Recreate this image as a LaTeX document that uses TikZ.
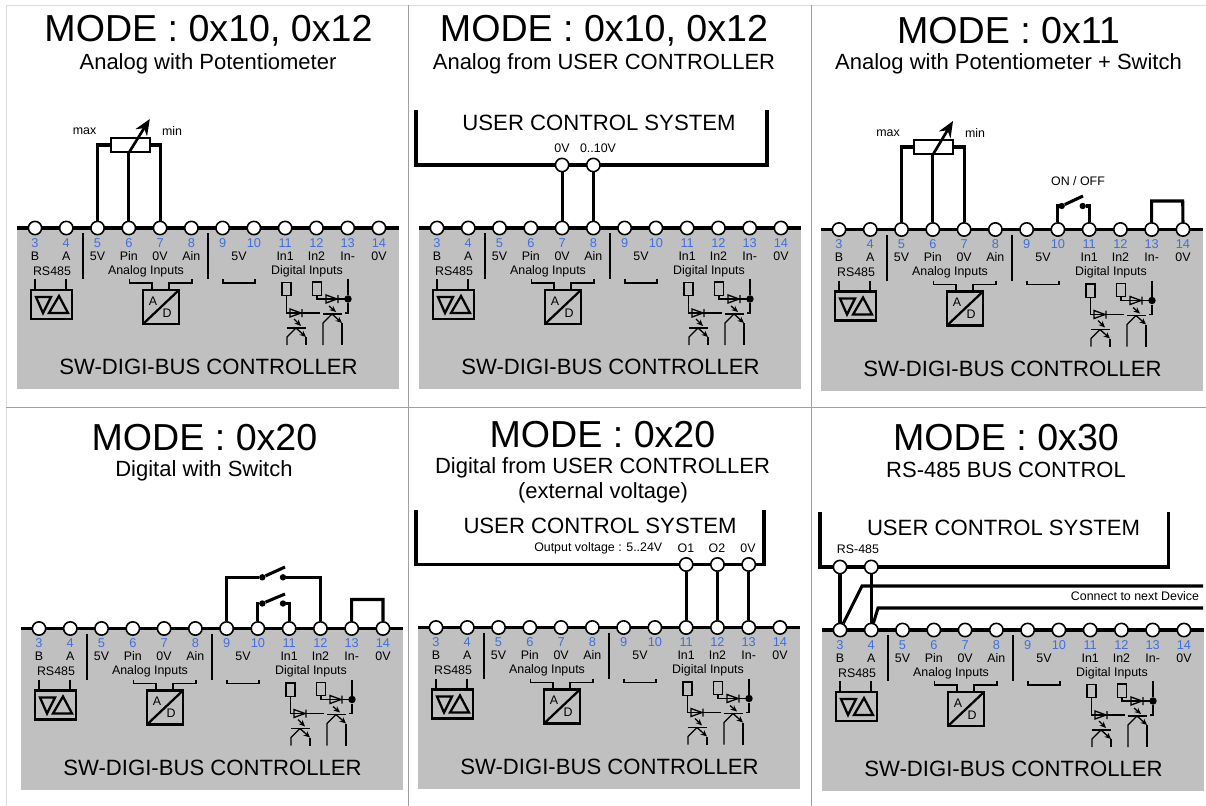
\documentclass[tikz,border=0pt]{standalone}
\usepackage{fontspec}
\setmainfont{Liberation Sans}
\usetikzlibrary{arrows.meta,calc}
\definecolor{panelgray}{HTML}{C0C0C0}
\definecolor{numblue}{HTML}{3F6FE0}
\definecolor{gridgray}{HTML}{A0A0A0}
\definecolor{gridlight}{HTML}{DCDCDC}
\tikzset{
 x=0.75pt,y=-0.75pt,
 term/.style={circle,draw=black,fill=white,line width=1.2pt,minimum size=10pt,inner sep=0pt},
 numlab/.style={text=numblue,font=\fontsize{9.6}{10}\selectfont,inner sep=0pt},
 lab/.style={font=\fontsize{9.3}{10}\selectfont,inner sep=0pt},
 title/.style={font=\fontsize{28.2}{30}\selectfont,inner sep=0pt},
 subtitle/.style={font=\fontsize{16.5}{18}\selectfont,inner sep=0pt},
 big/.style={font=\fontsize{16.6}{18}\selectfont,inner sep=0pt},
 wire/.style={line width=2.3pt,draw=black},
 thick wire/.style={line width=2.5pt,draw=black},
 inner wire/.style={line width=1pt,draw=black},
 box wire/.style={line width=1.7pt,draw=black},
 sep wire/.style={line width=1.6pt,draw=black},
 arrowed/.style={line width=1pt,-{Stealth[length=4.8pt,width=4.2pt]}},
 dot/.style={circle,fill=black,inner sep=0pt,minimum size=4.8pt},
 bigdot/.style={circle,fill=black,inner sep=0pt,minimum size=5.6pt},
 pot/.style={rectangle,draw=black,fill=white,line width=1.7pt,minimum width=29pt,minimum height=10pt,inner sep=0pt},
 res/.style={rectangle,draw=black,line width=1pt,minimum width=6.6pt,minimum height=10pt,inner sep=0pt},
}
% #1 prefix, #2 x of terminal 3, #3 y of bus
\newcommand{\panelbody}[3]{%
\begin{scope}[shift={(#2,#3)}]
 \fill[panelgray] (-18,0) rectangle (364,161);
 \draw[thick wire] (-18,0) -- (364,0);
 \foreach \n/\lbl [count=\i from 0] in {3/B,4/A,5/5V,6/Pin,7/0V,8/Ain,9/,10/,11/In1,12/In2,13/In-,14/0V}{
   \node[term] (#1\n) at ({\i*31.27},0) {};
   \node[numlab] (#1n\n) at ({\i*31.27},15) {\n};
   \ifx\lbl\empty\else\node[lab] (#1l\n) at ({\i*31.27},28) {\lbl};\fi
 }
 \node[lab] (#1five) at (204,28) {5V};
 \node[lab] (#1rs) at (17,43) {RS485};
 \node[lab] (#1ana) at (111,43) {Analog Inputs};
 \node[lab] (#1dig) at (272,43) {Digital Inputs};
 \node[big] (#1ctl) at (173.5,139) {SW-DIGI-BUS CONTROLLER};
 \draw[sep wire] (48,5) -- (48,51);
 \draw[sep wire] (173,5) -- (173,51);
 % RS485 block
 \draw[box wire] (-4,62) rectangle (37,91);
 \draw[inner wire] (0,51) -- (0,62) (31,51) -- (31,62);
 \draw[box wire] (1,69) -- (16,69) -- (8,85) -- cycle;
 \draw[box wire] (14,85) -- (33,85) -- (24,68) -- cycle;
 % A/D block
 \draw[box wire] (108,62) rectangle (144,96);
 \draw[box wire] (108,96) -- (144,62);
 \node[lab] (#1A) at (118,73) {A};
 \node[lab] (#1D) at (132,85) {D};
 \draw[inner wire] (94.5,51) -- (94.5,55) -- (117,55) -- (117,62);
 \draw[inner wire] (157,51) -- (157,55) -- (134,55) -- (134,62);
 % 5V bracket
 \draw[inner wire] (188,51) -- (188,55) -- (220,55) -- (220,51);
 % digital input 1
 \node[res] (#1ra) at (251.5,61) {};
 \draw[inner wire] (#1ra.south) -- (251.5,85) -- (285,85);
 \draw[inner wire] (255,81) -- (255,89) -- (266,85) -- cycle (267,81) -- (267,89);
 \draw[arrowed] (259,91) -- (266,98);
 \draw[inner wire] (252,100) -- (271,100);
 \draw[inner wire] (252,117) -- (252,109) -- (261,100);
 \draw[arrowed] (261,100) -- (271,109);
 \draw[inner wire] (271,109) -- (271,117);
 % digital input 2
 \node[res] (#1rb) at (282,60.5) {};
 \draw[inner wire] (#1rb.south) -- (282,71) -- (313,71);
 \draw[inner wire] (291,67) -- (291,75) -- (302,71) -- cycle (303,67) -- (303,75);
 \node[bigdot] (#1dt) at (313,71) {};
 \draw[inner wire] (313,51) -- (#1dt) -- (313,85) -- (310,85);
 \draw[arrowed] (294,78) -- (301,84);
 \draw[inner wire] (288,86) -- (307,86);
 \draw[inner wire] (288,117) -- (288,95) -- (297,86);
 \draw[arrowed] (297,86) -- (307,95);
 \draw[inner wire] (307,95) -- (307,117);
\end{scope}}
% #1 prefix, #2 x centre, #3 y of wire, potentiometer
\newcommand{\potmeter}[3]{%
 \node[pot] (#1pot) at (#2,#3) {};
 \draw[wire] (#15.north) |- (#1pot.west);
 \draw[wire] (#17.north) |- (#1pot.east);
 \draw[wire] (#16.north) -- (#16.north |- #1pot.south);
 \coordinate (#1tip) at ($(#1pot.center)+(19.5,-26)$);
 \draw[line width=2pt,-{Stealth[length=12pt,width=10pt]}] (#16 |- #1pot.south) -- (#1tip);
}
\begin{document}
\begin{tikzpicture}
\useasboundingbox (0,0) rectangle (1206,806);
\fill[white] (0,0) rectangle (1206,806);
\draw[gridlight,line width=0.7pt] (6,806) -- (6,5) -- (1206,5);
\draw[gridgray,line width=0.7pt] (408,5) -- (408,806) (811,5) -- (811,806) (6,407.5) -- (1206,407.5);

% ---- panel 1
\node[title] (t1) at (208.5,31) {MODE : 0x10, 0x12};
\node[subtitle] (s1) at (208,64) {Analog with Potentiometer};
\panelbody{a}{35}{228}
\potmeter{a}{130.3}{145}
\node[lab] (amax) at (84.5,131) {max};
\node[lab] (amin) at (172,131) {min};

% ---- panel 2
\node[title] (t2) at (604,31) {MODE : 0x10, 0x12};
\node[subtitle] (s2) at (604,64) {Analog from USER CONTROLLER};
\panelbody{b}{437}{228}
\node[big] (bu) at (599,123) {USER CONTROL SYSTEM};
\coordinate (bul) at (416,110);
\coordinate (bur) at (767,110);
\draw[thick wire] (bul) |- (767,165) -- (bur);
\node[term] (bp) at (b7 |- 0,165) {};
\node[term] (bq) at (b8 |- 0,165) {};
\draw[wire] (bp) -- (b7);
\draw[wire] (bq) -- (b8);
\node[lab] (bpl) at (562,148.5) {0V};
\node[lab] (bql) at (598,148.5) {0..10V};

% ---- panel 3
\node[title] (t3) at (1008.5,31) {MODE : 0x11};
\node[subtitle] (s3) at (1008.5,64) {Analog with Potentiometer + Switch};
\panelbody{c}{839}{229.5}
\potmeter{c}{933.5}{147}
\node[lab] (cmax) at (888,133) {max};
\node[lab] (cmin) at (975,133) {min};
\node[lab] (con) at (1078,181.5) {ON / OFF};
\node[dot] (cda) at (1061.7,206) {};
\node[dot] (cdb) at (1082.7,206) {};
\coordinate (cle) at (1083,196);
\draw[wire] (c10.north) |- (cda);
\draw[wire] (cda) -- (cle);
\draw[wire] (c11.north) |- (cdb);
\draw[wire] (c13.north) |- (1182.7,201) -- (c14.north);

% ---- panel 4
\node[title] (t4) at (204.5,438) {MODE : 0x20};
\node[subtitle] (s4) at (204,471) {Digital with Switch};
\panelbody{d}{39}{628.5}
\node[dot] (dda) at (262.3,577.3) {};
\node[dot] (ddb) at (283,577.3) {};
\coordinate (dle) at (285,567);
\draw[wire] (d9.north) |- (dda);
\draw[wire] (dda) -- (dle);
\draw[wire] (d12.north) |- (ddb);
\node[dot] (ddc) at (262.3,603.5) {};
\node[dot] (ddd) at (283,603.5) {};
\coordinate (dlf) at (285,594);
\draw[wire] (d10.north) |- (ddc);
\draw[wire] (ddc) -- (dlf);
\draw[wire] (d11.north) |- (ddd);
\draw[wire] (d13.north) |- (383,599.5) -- (d14.north);

% ---- panel 5
\node[title] (t5) at (602.5,435) {MODE : 0x20};
\node[subtitle] (s5) at (602.5,468) {Digital from USER CONTROLLER};
\node[subtitle] (s5b) at (603,493) {(external voltage)};
\panelbody{e}{436}{627.5}
\node[big] (eu) at (600,526) {USER CONTROL SYSTEM};
\coordinate (eul) at (416,510);
\coordinate (eur) at (764,510);
\draw[thick wire] (eul) |- (764,564.5) -- (eur);
\node[term] (ep) at (e11 |- 0,564.5) {};
\node[term] (eq) at (e12 |- 0,564.5) {};
\node[term] (er) at (e13 |- 0,564.5) {};
\draw[wire] (ep) -- (e11);
\draw[wire] (eq) -- (e12);
\draw[wire] (er) -- (e13);
\node[lab] (epl) at (686,548) {O1};
\node[lab] (eql) at (717,548) {O2};
\node[lab] (erl) at (748,548) {0V};
\node[lab,anchor=east] (ev) at (662.5,548) {Output voltage : 5..24V};

% ---- panel 6
\node[title] (t6) at (1006,438) {MODE : 0x30};
\node[subtitle] (s6) at (1006,470) {RS-485 BUS CONTROL};
\panelbody{f}{840}{630}
\node[big] (fu) at (1003.5,528) {USER CONTROL SYSTEM};
\coordinate (ful) at (820,512);
\coordinate (fur) at (1168.5,512);
\draw[thick wire] (ful) |- (1168.5,567) -- (fur);
\node[term] (fp) at (f3 |- 0,567) {};
\node[term] (fq) at (f4 |- 0,567) {};
\draw[wire] (fp) -- (f3);
\draw[wire] (fq) -- (f4);
\node[lab] (frs) at (858,549) {RS-485};
\coordinate (fa) at (862,586);
\coordinate (fb) at (878,608);
\coordinate (fc) at (1203,586);
\coordinate (fd) at (1203,608);
\draw[wire] (f3) -- (fa) -- (fc);
\draw[wire] (f4) -- (fb) -- (fd);
\node[lab] (fn) at (1135,596) {Connect to next Device};
\end{tikzpicture}
\end{document}
